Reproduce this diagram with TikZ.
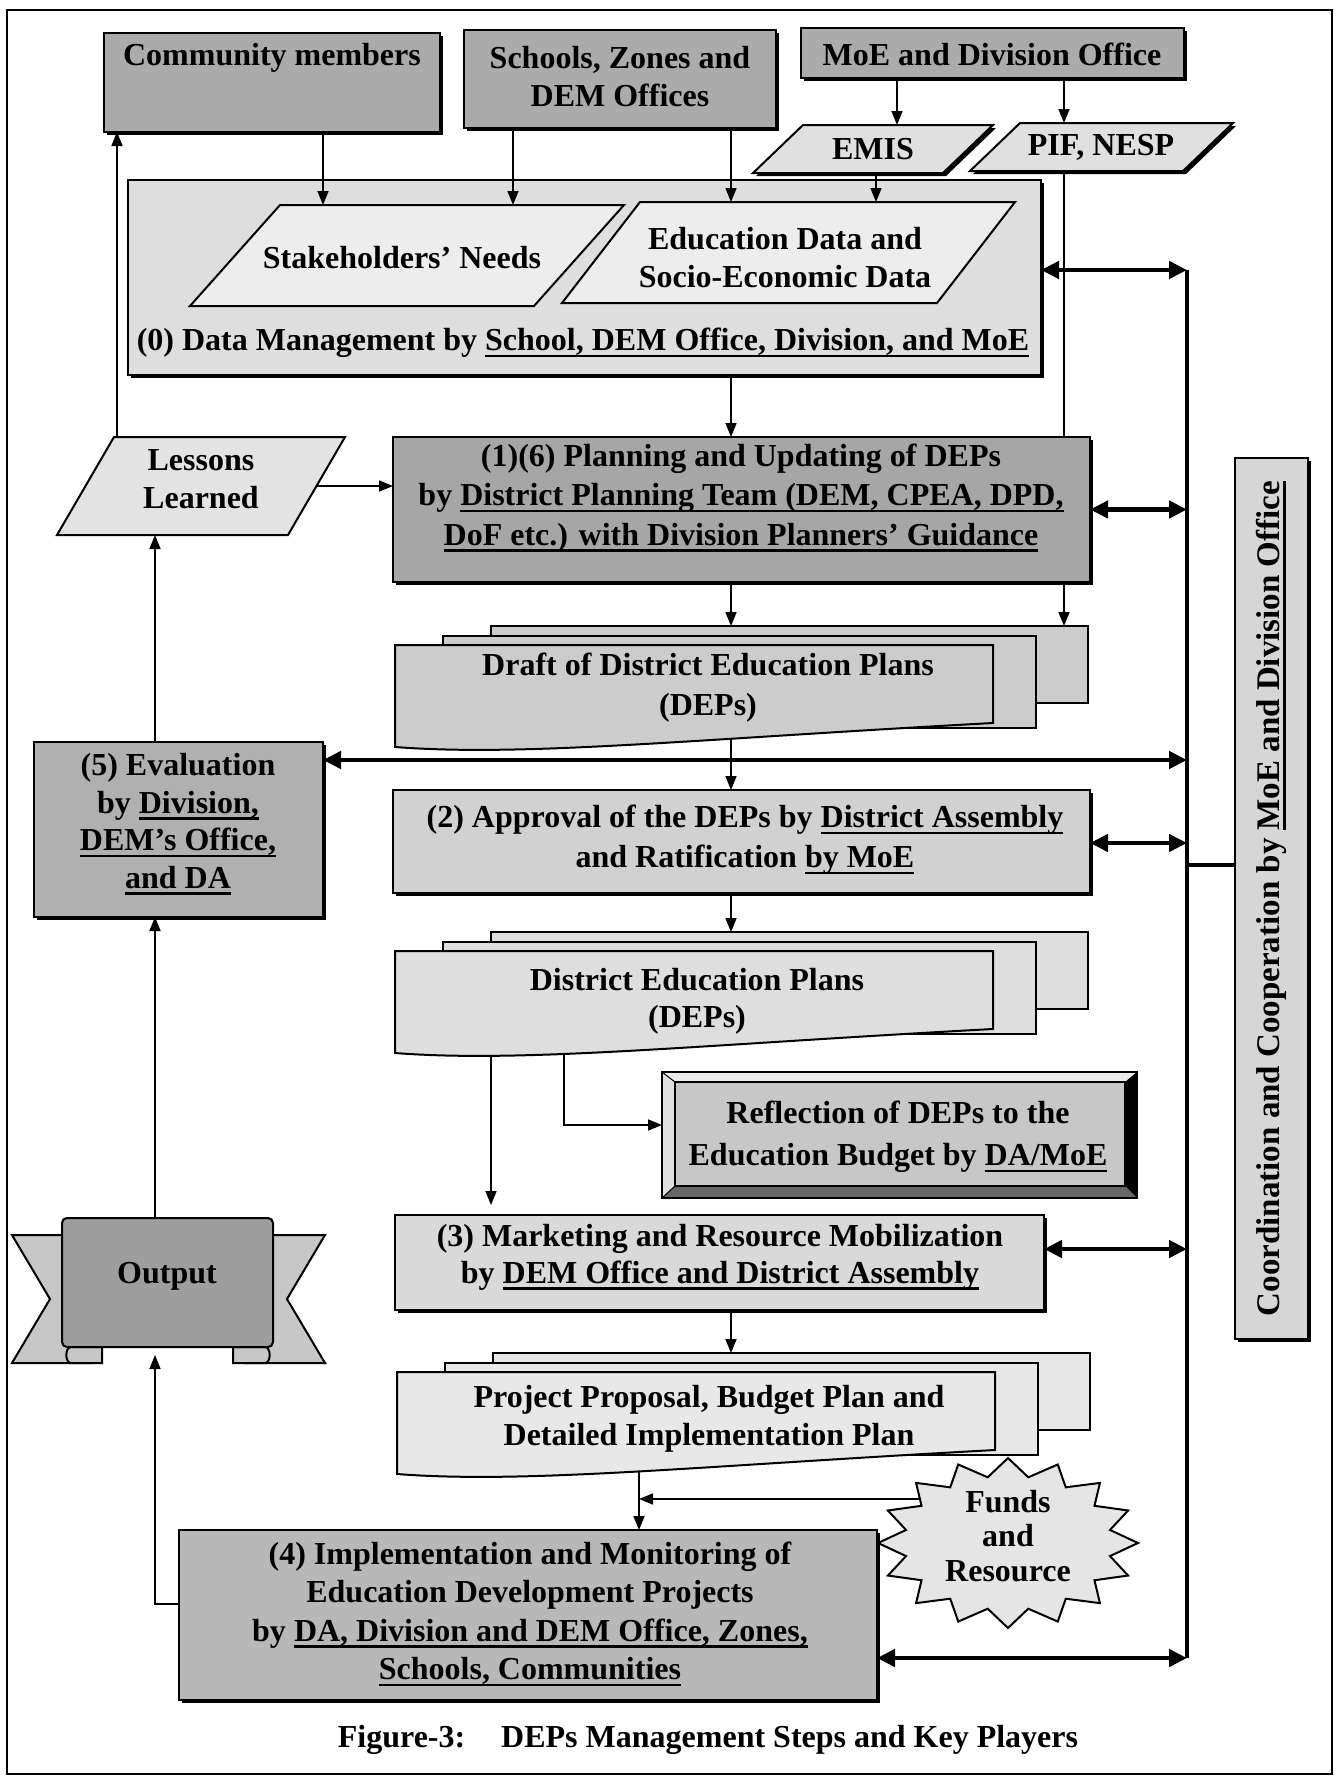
\documentclass[tikz,border=0pt]{standalone}
\usepackage{fontspec}
\setmainfont{Liberation Serif}
\usetikzlibrary{arrows.meta,shadows,calc}
\pgfdeclarelayer{background}
\pgfdeclarelayer{links}
\pgfsetlayers{background,links,main}

% underline drawn at a fixed depth below the baseline
\newsavebox\ulbox
\newcommand\undl[1]{\sbox\ulbox{#1}\rlap{\rule[-6.5pt]{\wd\ulbox}{2.6pt}}\usebox\ulbox}

% parallelogram drawn inside the bounding box of a named node
\newcommand\slantbox[3]{%
  \path[#1] ($(#2.north west)+(#3,0)$) -- (#2.north east) -- ($(#2.south east)+(-#3,0)$) -- (#2.south west) -- cycle;}

% stack of three sheets: #1 name, #2 left x, #3 top y, #4 fill
\newcommand\docstack[4]{%
  \node[sheet,fill=#4,minimum width=597pt,minimum height=77pt] (#1back) at ({#2+96},#3) {};
  \node[sheet,fill=#4,minimum width=593pt,minimum height=92pt] (#1mid) at ({#2+48},{#3+10}) {};
  \node[anchor=north west,minimum width=598pt,minimum height=102pt] (#1) at (#2,{#3+19}) {};
  \path[draw=black,line width=2pt,fill=#4] (#1.north west) -- (#1.north east) -- ($(#1.north east)+(0,78)$)
     .. controls ($(#1.north west)+(300,94)$) and ($(#1.north west)+(130,112)$) .. (#1.south west) -- cycle;}

\begin{document}
\begin{tikzpicture}[x=1pt,y=-1pt,
  every node/.style={inner sep=0pt,outer sep=0pt},
  txt/.style={font=\bfseries\fontsize{32}{38}\selectfont,align=center},
  blk/.style={draw=black,line width=2pt,anchor=north west},
  shd/.style={drop shadow={shadow xshift=3pt,shadow yshift=-3pt,opacity=1,fill=black}},
  sheet/.style={draw=black,line width=2pt,anchor=north west},
  arrowlink/.style={line width=1.6pt,-{Triangle[length=14pt,width=11pt]}},
  wire/.style={line width=1.6pt},
  busline/.style={line width=4.5pt},
  duplex/.style={line width=4.5pt,{Triangle[length=18pt,width=17pt]}-{Triangle[length=18pt,width=17pt]}},
]
\useasboundingbox (0,0) rectangle (1338,1780);
\begin{pgfonlayer}{background}
  \fill[white] (0,0) rectangle (1338,1780);
\end{pgfonlayer}
\draw[line width=1.5pt] (7,10) rectangle (1332,1774);

% ---------- connector tracks ----------
\coordinate (xStakeA) at (323,0);
\coordinate (xStakeB) at (513,0);
\coordinate (xMain) at (731,0);
\coordinate (xEmisIn) at (897,0);
\coordinate (xEmisOut) at (876,0);
\coordinate (xPif) at (1064,0);
\coordinate (xUp) at (117,0);
\coordinate (xLeft) at (155,0);
\coordinate (xDepsA) at (491,0);
\coordinate (xDepsB) at (564,0);
\coordinate (xImpl) at (639,0);
\coordinate (xBus) at (1187,0);
\coordinate (yData) at (0,270);
\coordinate (yLessons) at (0,486);
\coordinate (yEval) at (0,760);
\coordinate (yAppr) at (0,843);
\coordinate (yCoord) at (0,865);
\coordinate (yRefl) at (0,1125);
\coordinate (yDepsGap) at (0,1205);
\coordinate (yMkt) at (0,1249);
\coordinate (yOutTip) at (0,1355);
\coordinate (yFunds) at (0,1499);
\coordinate (yImplOut) at (0,1604);
\coordinate (yImpl) at (0,1658);

% ---------- sources ----------
\node[blk,shd,fill=black!33,minimum width=336pt,minimum height=99pt] (comm) at (104,33) {};
\node[txt] (commT) at (272,58) {Community members};
\node[blk,shd,fill=black!33,minimum width=312pt,minimum height=98pt] (schools) at (464,30) {};
\node[txt] (schoolsT) at (620,77) {Schools, Zones and\\DEM Offices};
\node[blk,shd,fill=black!33,minimum width=383pt,minimum height=50pt] (moe) at (801,28) {};
\node[txt] (moeT) at (992,54) {MoE and Division Office};

% ---------- (0) data management ----------
\node[blk,shd,fill=black!13,minimum width=913pt,minimum height=195pt] (data) at (128,180) {};
\node[anchor=north west,minimum width=434pt,minimum height=101pt] (stake) at (190,205) {};
\node[anchor=north west,minimum width=453pt,minimum height=101pt] (edu) at (562,202) {};
\node[anchor=north west,minimum width=240pt,minimum height=48pt] (emis) at (753,125) {};
\node[anchor=north west,minimum width=263pt,minimum height=48pt] (pif) at (970,123) {};

% inputs that run over the data management panel
\draw[arrowlink] (xStakeA |- comm.south) -- (xStakeA |- stake.north);
\draw[arrowlink] (xStakeB |- schools.south) -- (xStakeB |- stake.north);
\draw[arrowlink] (xMain |- schools.south) -- (xMain |- edu.north);
\draw[arrowlink] (xEmisIn |- moe.south) -- (xEmisIn |- emis.north);
\draw[arrowlink] (xPif |- moe.south) -- (xPif |- pif.north);
\draw[arrowlink] (xEmisOut |- emis.south) -- (xEmisOut |- edu.north);

\slantbox{draw,line width=2pt,fill=black!12,shd}{emis}{50}
\node[txt] (emisT) at (873,149) {EMIS};
\slantbox{draw,line width=2pt,fill=black!12,shd}{pif}{50}
\node[txt] (pifT) at (1101,147) {PIF, NESP};
\slantbox{draw,line width=2pt,fill=black!7}{stake}{90}
\node[txt] (stakeT) at (402,258) {Stakeholders’ Needs};
\slantbox{draw,line width=2pt,fill=black!7}{edu}{78}
\node[txt] (eduT) at (785,258) {Education Data and\\Socio-Economic Data};
\node[txt] (dataT) at (583,343) {(0) Data Management by \undl{School, DEM Office, Division, and MoE}};

% ---------- lessons and planning ----------
\node[anchor=north west,minimum width=288pt,minimum height=98pt] (lessons) at (57,437) {};
\slantbox{draw,line width=2pt,fill=black!11}{lessons}{57}
\node[txt] (lessonsT) at (201,479) {Lessons\\Learned};

\node[blk,shd,fill=black!35,minimum width=697pt,minimum height=145pt] (plan) at (393,437) {};
\node[txt,font=\bfseries\fontsize{32}{39.5}\selectfont] (planT) at (741,498)
  {(1)(6) Planning and Updating of DEPs\\by \undl{District Planning Team (DEM, CPEA, DPD,}\\\undl{DoF etc.) with Division Planners’ Guidance}};

\docstack{draft}{395}{626}{black!20}
\node[txt,font=\bfseries\fontsize{32}{40}\selectfont] (draftT) at (708,688) {Draft of District Education Plans\\(DEPs)};

% ---------- (5) evaluation ----------
\node[blk,shd,fill=black!31,minimum width=289pt,minimum height=175pt] (eval) at (34,742) {};
\node[txt,font=\bfseries\fontsize{32}{37.7}\selectfont] (evalT) at (178,824)
  {(5) Evaluation\\by \undl{Division,}\\\undl{DEM’s Office,}\\\undl{and DA}};

% ---------- (2) approval ----------
\node[blk,shd,fill=black!18,minimum width=697pt,minimum height=103pt] (appr) at (393,790) {};
\node[txt,font=\bfseries\fontsize{32}{40}\selectfont] (apprT) at (745,840)
  {(2) Approval of the DEPs by \undl{District Assembly}\\and Ratification \undl{by MoE}};

\docstack{deps}{395}{932}{black!13}
\node[txt,font=\bfseries\fontsize{32}{37}\selectfont] (depsT) at (697,1001) {District Education Plans\\(DEPs)};

% ---------- budget reflection (bevelled) ----------
\node[blk,fill=black!22,minimum width=475pt,minimum height=126pt] (refl) at (662,1072) {};
\path (refl.north west) ++(13,10) coordinate (rTL)
      (refl.north east) ++(-12,10) coordinate (rTR)
      (refl.south east) ++(-12,-12) coordinate (rBR)
      (refl.south west) ++(13,-12) coordinate (rBL);
\fill[black!8] (refl.north west) -- (refl.north east) -- (rTR) -- (rTL) -- cycle;
\fill[black!12] (refl.north west) -- (rTL) -- (rBL) -- (refl.south west) -- cycle;
\fill[black] (refl.north east) -- (refl.south east) -- (rBR) -- (rTR) -- cycle;
\fill[black!60] (refl.south west) -- (rBL) -- (rBR) -- (refl.south east) -- cycle;
\draw[line width=1.2pt] (rTL) rectangle (rBR);
\draw[line width=1pt] (refl.north west) -- (rTL) (refl.south west) -- (rBL);
\draw[line width=2pt] (refl.north west) rectangle (refl.south east);
\node[txt,font=\bfseries\fontsize{32}{42}\selectfont] (reflT) at (898,1137)
  {Reflection of DEPs to the\\Education Budget by \undl{DA/MoE}};

% ---------- (3) marketing ----------
\node[blk,shd,fill=black!15,minimum width=649pt,minimum height=95pt] (mkt) at (395,1215) {};
\node[txt,font=\bfseries\fontsize{32}{37}\selectfont] (mktT) at (720,1257)
  {(3) Marketing and Resource Mobilization\\by \undl{DEM Office and District Assembly}};

% ---------- output ribbon ----------
\path[draw,line width=2pt,fill=black!22] (12,1235) -- (90,1235) -- (90,1363) -- (12,1363) -- (50,1299) -- cycle;
\path[draw,line width=2pt,fill=black!22] (325,1235) -- (245,1235) -- (245,1363) -- (325,1363) -- (287,1299) -- cycle;
\path[draw,line width=2pt,fill=black!22] (102,1343) -- (102,1363) -- (71,1363) to[out=180,in=180] (71,1347) -- (102,1347);
\path[draw,line width=2pt,fill=black!22] (233,1343) -- (233,1363) -- (265,1363) to[out=0,in=0] (265,1347) -- (233,1347);
\node[blk,fill=black!38,rounded corners=5pt,minimum width=211pt,minimum height=129pt] (output) at (62,1218) {};
\node[txt] (outputT) at (167,1276) {Output};

\docstack{proj}{397}{1353}{black!9}
\node[txt,font=\bfseries\fontsize{32}{38}\selectfont] (projT) at (709,1419)
  {Project Proposal, Budget Plan and\\Detailed Implementation Plan};

% ---------- funds ----------
\node[minimum width=260pt,minimum height=170pt] (funds) at (1008,1543) {};
\draw[line width=2pt,fill=black!10] ($(funds.center)+(90:130 and 85)$)
  \foreach \i in {1,...,31}{ -- ($(funds.center)+({90+11.25*\i}:{117+13*cos(180*\i)} and {76+9*cos(180*\i)})$)} -- cycle;
\node[txt,font=\bfseries\fontsize{32}{34.5}\selectfont] (fundsT) at (1008,1536) {Funds\\and\\Resource};

% ---------- (4) implementation ----------
\node[blk,shd,fill=black!28,minimum width=698pt,minimum height=170pt] (impl) at (179,1530) {};
\node[txt,font=\bfseries\fontsize{32}{38.5}\selectfont] (implT) at (530,1614)
  {(4) Implementation and Monitoring of\\Education Development Projects\\by \undl{DA, Division and DEM Office, Zones,}\\\undl{Schools, Communities}};

% ---------- coordination ----------
\node[blk,shd,fill=black!16,minimum width=73pt,minimum height=881pt] (coord) at (1235,458) {};
\node[txt,rotate=90,font=\bfseries\fontsize{33}{38}\selectfont] (coordT) at (coord.center) {Coordination and Cooperation by \undl{MoE and Division Office}};

\node[txt] (caption) at (708,1740) {Figure-3:\hspace{36pt}DEPs Management Steps and Key Players};

\begin{pgfonlayer}{links}
  \draw[wire] (xPif |- pif.south) -- (xPif |- plan.north);
  \draw[arrowlink] (xMain |- data.south) -- (xMain |- plan.north);
  \draw[arrowlink] (lessons.center |- yLessons) -- (plan.west |- yLessons);
  \draw[arrowlink] (xUp |- lessons.north) -- (xUp |- comm.south);
  \draw[arrowlink] (xLeft |- eval.north) -- (xLeft |- lessons.south);
  \draw[arrowlink] (xLeft |- output.north) -- (xLeft |- eval.south);
  \draw[arrowlink] (impl.west |- yImplOut) -| (xLeft |- yOutTip);
  \draw[arrowlink] (xMain |- plan.south) -- (xMain |- draftback.north);
  \draw[arrowlink] (xPif |- plan.south) -- (xPif |- draftback.north);
  \draw[arrowlink] (xMain |- draft.center) -- (xMain |- appr.north);
  \draw[arrowlink] (xMain |- appr.south) -- (xMain |- depsback.north);
  \draw[arrowlink] (xDepsA |- deps.center) -- (xDepsA |- yDepsGap);
  \draw[arrowlink] (xDepsB |- deps.center) |- (refl.west |- yRefl);
  \draw[arrowlink] (xMain |- mkt.south) -- (xMain |- projback.north);
  \draw[arrowlink] (xImpl |- proj.center) -- (xImpl |- impl.north);
  \draw[arrowlink] (funds.center |- yFunds) -- (xImpl |- yFunds);
  % coordination bus
  \draw[busline] (xBus |- yData) -- (xBus |- yImpl);
  \draw[busline] (xBus |- yCoord) -- (coord.west |- yCoord);
  \draw[duplex] (data.east |- yData) -- (xBus |- yData);
  \draw[duplex] (plan.east) -- (plan.east -| xBus);
  \draw[duplex] (eval.east |- yEval) -- (xBus |- yEval);
  \draw[duplex] (appr.east |- yAppr) -- (xBus |- yAppr);
  \draw[duplex] (mkt.east |- yMkt) -- (xBus |- yMkt);
  \draw[duplex] (impl.east |- yImpl) -- (xBus |- yImpl);
\end{pgfonlayer}
\end{tikzpicture}
\end{document}
